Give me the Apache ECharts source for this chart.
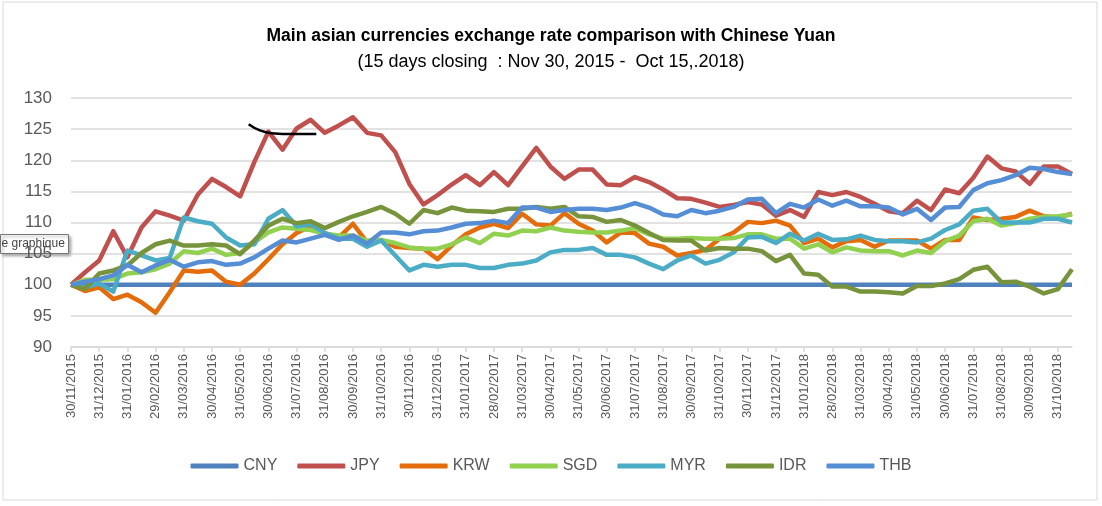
<!DOCTYPE html>
<html>
<head>
<meta charset="utf-8">
<script src="https://cdn.jsdelivr.net/npm/echarts@6.0.0/dist/echarts.min.js"></script>
<style>
  html, body { margin: 0; padding: 0; background: #fff; }
  #chart { width: 1102px; height: 506px; }
</style>
</head>
<body>
<div id="chart"></div>
<script>
// -------------------- data --------------------
const dates = [
  '30/11/2015', '15/12/2015', '31/12/2015', '15/01/2016', '31/01/2016', '15/02/2016',
  '29/02/2016', '15/03/2016', '31/03/2016', '15/04/2016', '30/04/2016', '15/05/2016',
  '31/05/2016', '15/06/2016', '30/06/2016', '15/07/2016', '31/07/2016', '15/08/2016',
  '31/08/2016', '15/09/2016', '30/09/2016', '15/10/2016', '31/10/2016', '15/11/2016',
  '30/11/2016', '15/12/2016', '31/12/2016', '15/01/2017', '31/01/2017', '15/02/2017',
  '28/02/2017', '15/03/2017', '31/03/2017', '15/04/2017', '30/04/2017', '15/05/2017',
  '31/05/2017', '15/06/2017', '30/06/2017', '15/07/2017', '31/07/2017', '15/08/2017',
  '31/08/2017', '15/09/2017', '30/09/2017', '15/10/2017', '31/10/2017', '15/11/2017',
  '30/11/2017', '15/12/2017', '31/12/2017', '15/01/2018', '31/01/2018', '15/02/2018',
  '28/02/2018', '15/03/2018', '31/03/2018', '15/04/2018', '30/04/2018', '15/05/2018',
  '31/05/2018', '15/06/2018', '30/06/2018', '15/07/2018', '31/07/2018', '15/08/2018',
  '31/08/2018', '15/09/2018', '30/09/2018', '15/10/2018', '31/10/2018', '15/11/2018'
]

const cny = [
  100, 100, 100, 100, 100, 100, 100, 100, 100, 100, 100, 100,
  100, 100, 100, 100, 100, 100, 100, 100, 100, 100, 100, 100,
  100, 100, 100, 100, 100, 100, 100, 100, 100, 100, 100, 100,
  100, 100, 100, 100, 100, 100, 100, 100, 100, 100, 100, 100,
  100, 100, 100, 100, 100, 100, 100, 100, 100, 100, 100, 100,
  100, 100, 100, 100, 100, 100, 100, 100, 100, 100, 100, 100
]
const jpy = [
  100, 102.0, 103.9, 108.6, 104.4, 109.2, 111.8, 111.1, 110.3, 114.5, 117.0, 115.7,
  114.2, 119.7, 124.6, 121.7, 125.1, 126.5, 124.4, 125.6, 126.9, 124.4, 124.0, 121.3,
  116.2, 112.9, 114.4, 116.1, 117.6, 116.0, 118.1, 116.0, 119.0, 122.0, 119.0, 117.0,
  118.5, 118.5, 116.1, 116.0, 117.3, 116.5, 115.3, 113.9, 113.8, 113.2, 112.5, 112.8,
  113.3, 112.9, 111.1, 112.0, 110.9, 114.9, 114.4, 114.9, 114.1, 113.0, 111.8, 111.5,
  113.5, 112.0, 115.3, 114.7, 117.2, 120.6, 118.7, 118.2, 116.2, 119.0, 119.0, 117.8
]
const krw = [
  100, 99.0, 99.6, 97.7, 98.4, 97.2, 95.5, 98.8, 102.3, 102.1, 102.3, 100.5,
  100.0, 101.8, 104.1, 106.5, 108.3, 109.4, 108.3, 107.6, 109.8, 106.8, 107.2, 106.1,
  105.9, 105.8, 104.1, 106.3, 108.1, 109.2, 109.8, 109.1, 111.4, 109.7, 109.5, 111.5,
  109.8, 108.7, 106.8, 108.4, 108.3, 106.6, 106.1, 104.7, 105.1, 105.6, 107.4, 108.4,
  110.1, 109.9, 110.3, 109.5, 106.7, 107.4, 106.0, 107.0, 107.2, 106.1, 107.1, 107.1,
  107.1, 105.8, 107.2, 107.2, 110.8, 110.4, 110.6, 110.9, 111.9, 111.0, 110.8, 111.4
]
const sgd = [
  100, 100.8, 100.8, 100.9, 101.8, 102.0, 102.5, 103.4, 105.4, 105.1, 105.8, 104.8,
  105.1, 106.8, 108.4, 109.2, 109.0, 108.8, 108.2, 107.9, 107.9, 107.1, 107.2, 106.7,
  106.0, 105.8, 105.8, 106.5, 107.6, 106.7, 108.2, 107.9, 108.7, 108.6, 109.2, 108.7,
  108.5, 108.4, 108.4, 108.7, 109.1, 108.1, 107.4, 107.4, 107.5, 107.4, 107.4, 107.5,
  108.1, 108.1, 107.4, 107.4, 105.8, 106.5, 105.2, 106.0, 105.5, 105.4, 105.4, 104.7,
  105.5, 105.1, 107.0, 107.9, 110.2, 110.6, 109.5, 109.9, 110.6, 110.9, 111.0, 111.3
]
const myr = [
  100, 99.6, 100.2, 98.9, 105.5, 104.7, 103.9, 104.3, 110.8, 110.2, 109.8, 107.6,
  106.3, 106.5, 110.6, 112.0, 109.4, 109.7, 108.3, 107.4, 107.4, 106.1, 107.1, 104.7,
  102.3, 103.2, 102.9, 103.2, 103.2, 102.7, 102.7, 103.2, 103.4, 103.9, 105.2, 105.6,
  105.6, 105.9, 104.8, 104.8, 104.4, 103.4, 102.5, 103.9, 104.7, 103.4, 104.0, 105.2,
  107.6, 107.7, 106.7, 108.2, 107.1, 108.2, 107.2, 107.3, 107.9, 107.2, 107.0, 107.0,
  106.8, 107.4, 108.8, 109.7, 111.9, 112.2, 110.0, 110.0, 110.0, 110.6, 110.6, 110.0
]
const idr = [
  100, 99.3, 101.8, 102.3, 103.1, 105.1, 106.5, 107.1, 106.3, 106.3, 106.5, 106.3,
  104.9, 107.1, 109.5, 110.6, 109.9, 110.2, 109.1, 110.1, 111.0, 111.7, 112.5, 111.4,
  109.8, 112.0, 111.5, 112.4, 111.9, 111.8, 111.7, 112.2, 112.2, 112.5, 112.2, 112.5,
  111.0, 110.9, 110.1, 110.4, 109.5, 108.3, 107.2, 107.1, 107.1, 105.5, 105.9, 105.8,
  105.8, 105.4, 103.8, 104.8, 101.8, 101.6, 99.7, 99.7, 98.9, 98.9, 98.8, 98.6,
  99.8, 99.8, 100.2, 100.9, 102.4, 102.9, 100.4, 100.5, 99.7, 98.6, 99.3, 102.5
]
const thb = [
  100, 100.5, 100.9, 101.5, 103.2, 102.0, 103.1, 104.0, 102.9, 103.6, 103.8, 103.2,
  103.4, 104.4, 105.8, 107.1, 106.8, 107.4, 108.0, 107.2, 107.9, 106.6, 108.4, 108.4,
  108.1, 108.6, 108.7, 109.2, 109.8, 109.9, 110.3, 109.9, 112.4, 112.4, 111.7, 112.0,
  112.2, 112.2, 112.0, 112.4, 113.1, 112.4, 111.3, 111.0, 112.0, 111.5, 111.9, 112.5,
  113.7, 113.8, 111.5, 113.0, 112.4, 113.7, 112.7, 113.5, 112.6, 112.6, 112.4, 111.3,
  112.2, 110.4, 112.4, 112.5, 115.2, 116.3, 116.8, 117.6, 118.8, 118.6, 118.1, 117.8
]

// pen stroke drawn over the chart (category index, value)
const penStroke = [[12.6, 125.8], [13.4, 124.8], [14.2, 124.35], [15.8, 124.2], [17.4, 124.2]]

const seriesList = [
  { name: 'CNY', data: cny, color: '#4f81bd' },
  { name: 'JPY', data: jpy, color: '#c0504d' },
  { name: 'KRW', data: krw, color: '#e46c0a' },
  { name: 'SGD', data: sgd, color: '#92d050' },
  { name: 'MYR', data: myr, color: '#4bacc6' },
  { name: 'IDR', data: idr, color: '#77933c' },
  { name: 'THB', data: thb, color: '#558ed5' }
]

// -------------------- chart --------------------
const chart = echarts.init(document.getElementById('chart'), null, { renderer: 'canvas' })

const grey = '#595959'
const lineSeries = seriesList.map(s => ({
  name: s.name,
  type: 'line',
  data: s.data,
  symbol: 'none',
  color: s.color,
  lineStyle: { width: 4.5, color: s.color, join: 'round' },
  emphasis: { disabled: true }
}))

lineSeries.push({
  name: 'pen',
  type: 'line',
  xAxisIndex: 1,
  data: penStroke,
  smooth: true,
  symbol: 'none',
  silent: true,
  lineStyle: { width: 2.5, color: '#000' },
  z: 10
})

chart.setOption({
  animation: false,
  title: [
    {
      text: 'Main asian currencies exchange rate comparison with Chinese Yuan',
      left: 'center',
      top: 22,
      textStyle: { fontFamily: 'Liberation Sans', fontSize: 17.5, fontWeight: 'bold', color: '#000' }
    },
    {
      text: '(15 days closing  : Nov 30, 2015 -  Oct 15,.2018)',
      left: 'center',
      top: 48,
      textStyle: { fontFamily: 'Liberation Sans', fontSize: 18, fontWeight: 'normal', color: '#000' }
    }
  ],
  legend: {
    data: seriesList.map(s => s.name),
    left: 'center',
    top: 453,
    icon: 'roundRect',
    itemWidth: 48,
    itemHeight: 5,
    itemGap: 20,
    textStyle: { fontFamily: 'Liberation Sans', fontSize: 16, color: grey }
  },
  grid: { left: 71, right: 30, top: 98, bottom: 159, containLabel: false },
  xAxis: [
    {
      type: 'category',
      data: dates,
      boundaryGap: false,
      axisLine: { lineStyle: { color: '#d9d9d9', width: 1.5 } },
      axisTick: { interval: 1, length: 5, lineStyle: { color: '#d9d9d9', width: 1.5 } },
      axisLabel: {
        interval: 1,
        rotate: 90,
        margin: 7,
        fontFamily: 'Liberation Sans',
        fontSize: 13,
        color: grey
      },
      splitLine: { show: false }
    },
    { type: 'value', min: 0, max: 71, show: false }
  ],
  yAxis: {
    type: 'value',
    min: 90,
    max: 130,
    interval: 5,
    axisLine: { show: false },
    axisTick: { show: false },
    axisLabel: { fontFamily: 'Liberation Sans', fontSize: 17, color: grey, margin: 19 },
    splitLine: { lineStyle: { color: '#d9d9d9', width: 1.5 } }
  },
  graphic: [
    {
      type: 'rect',
      shape: { x: 3, y: 2, width: 1094, height: 498 },
      style: { fill: 'none', stroke: '#d9d9d9', lineWidth: 1 },
      silent: true
    },
    {
      type: 'group',
      left: 0,
      top: 234,
      z: 100,
      children: [
        {
          type: 'rect',
          shape: { x: 0, y: 0, width: 68, height: 19 },
          style: {
            fill: '#fff', stroke: '#767676', lineWidth: 1,
            shadowBlur: 3, shadowOffsetX: 2, shadowOffsetY: 2, shadowColor: 'rgba(0,0,0,0.35)'
          }
        },
        {
          type: 'text',
          x: 1,
          y: 3,
          style: { text: 'e graphique', fontFamily: 'Liberation Sans', fontSize: 12, fill: '#444' }
        }
      ]
    }
  ],
  series: lineSeries
})
</script>
</body>
</html>
